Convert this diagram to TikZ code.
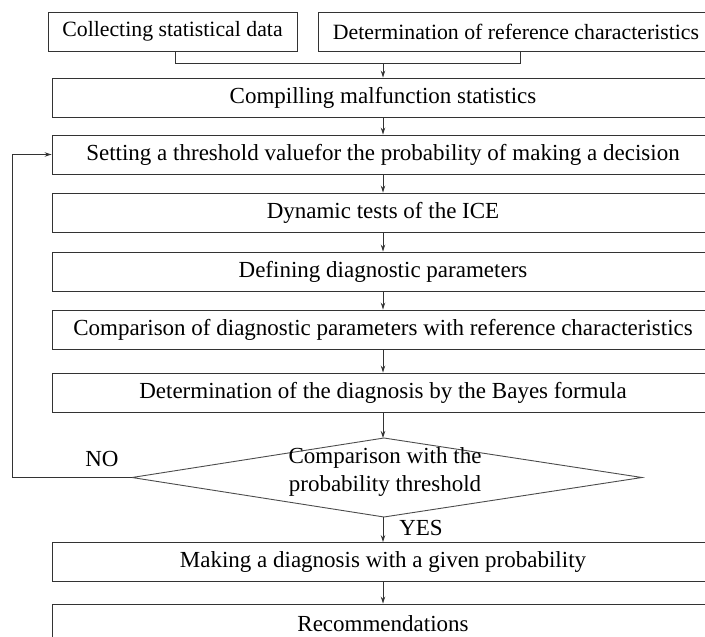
\documentclass[tikz,border=0pt]{standalone}
\usepackage{fontspec}
\setmainfont{Liberation Serif}
\usetikzlibrary{arrows.meta}
\begin{document}
\begin{tikzpicture}[x=1pt,y=-1pt,
  every node/.style={font=\fontsize{23}{28}\selectfont},
  box/.style={draw=black!80,line width=0.9pt,inner sep=0pt,minimum height=39pt},
  topbox/.style={box,font=\fontsize{21.8}{26}\selectfont},
  mainbox/.style={box,minimum width=662pt},
  conn/.style={draw=black!80,line width=0.9pt},
  arr/.style={conn,-{Stealth[length=7pt,width=4.5pt]}},
  lbl/.style={inner sep=0pt}]
\useasboundingbox (0,0) rectangle (705,637);
\clip (0,0) rectangle (705,637);
\node[topbox,minimum width=249pt] (c1) at (172.5,31.5) {Collecting statistical data};
\node[topbox,minimum width=396pt] (c2) at (516,31.5) {Determination of reference characteristics};
\node[mainbox] (m1) at (383,97.5) {Compilling malfunction statistics};
\node[mainbox] (m2) at (383,154.5) {Setting a threshold valuefor the probability of making a decision};
\node[mainbox] (m3) at (383,212.5) {Dynamic tests of the ICE};
\node[mainbox] (m4) at (383,271.5) {Defining diagnostic parameters};
\node[mainbox] (m5) at (383,329.5) {Comparison of diagnostic parameters with reference characteristics};
\node[mainbox] (m6) at (383,392.5) {Determination of the diagnosis by the Bayes formula};
% decision diamond
\coordinate (dn) at (384,438);
\coordinate (ds) at (384,517);
\coordinate (dw) at (132,477.5);
\coordinate (de) at (642,477.5);
\draw[conn,draw=black!70] (dn) -- (de) -- (ds) -- (dw) -- cycle;
\node[align=center,inner sep=0pt] (d) at (385,472) {Comparison with the\\probability threshold};
\node[mainbox] (m7) at (383,562) {Making a diagnosis with a given probability};
\node[mainbox] (m8) at (383,623.5) {Recommendations};
\node[lbl] (no) at (102,459) {NO};
\node[lbl] (yes) at (421,528) {YES};
\coordinate (j1) at (175,63);
\coordinate (j2) at (520,63);
\coordinate (j) at (383,63);
\coordinate (fb) at (12.5,300);
% merge connector
\draw[conn] (c1.south -| j1) -- (j1) -- (j2) -- (c2.south -| j2);
\draw[arr] (j) -- (m1.north -| j);
\draw[arr] (m1.south) -- (m2.north);
\draw[arr] (m2.south) -- (m3.north);
\draw[arr] (m3.south) -- (m4.north);
\draw[arr] (m4.south) -- (m5.north);
\draw[arr] (m5.south) -- (m6.north);
\draw[arr] (m6.south) -- (m6.south |- dn);
\draw[arr] (ds -| m7.north) -- (m7.north);
\draw[arr] (m7.south) -- (m8.north);
\draw[arr] (dw) -- (dw -| fb) -- (m2.west -| fb) -- (m2.west);
\end{tikzpicture}
\end{document}
